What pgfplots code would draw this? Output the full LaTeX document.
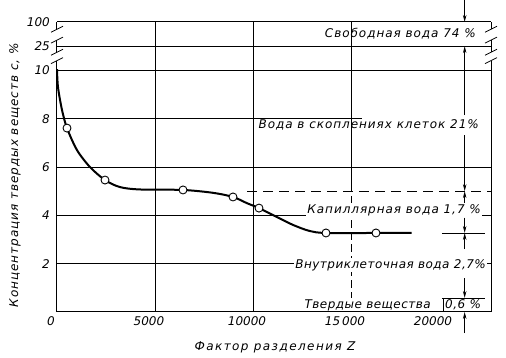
\documentclass[border=0pt]{standalone}
\usepackage{fontspec}
\setmainfont{DejaVu Sans}
\newfontfamily\lab{DejaVu Sans}[LetterSpace=8]
\newfontfamily\labn{DejaVu Sans}[LetterSpace=4]
\newfontfamily\labw{DejaVu Sans}[LetterSpace=12]
\usepackage{pgfplots}
\pgfplotsset{compat=1.18}
\usetikzlibrary{arrows.meta}
\begin{document}
\fontsize{12}{14}\selectfont\itshape
\begin{tikzpicture}[>={Stealth[length=7pt,width=3.5pt]}, every node/.append style={font=\fontsize{12}{14}\selectfont\lab\itshape}]
\useasboundingbox (0,0) rectangle (506pt,358pt);
\begin{axis}[
  at={(57pt,46pt)}, anchor=south west,
  scale only axis, width=434pt, height=290pt,
  xmin=0, xmax=22143, ymin=0, ymax=12,
  axis line style={draw=none},
  clip=false,
  scaled x ticks=false,
  xtick={0,5000,10000,15000,20000},
  xticklabels={0,5000,10000,15\,000,\hspace*{-20pt}20000},
  ytick={2,4,6,8,10,11,12},
  yticklabels={2,4,6,8,10,25,100},
  major tick length=0pt,
  /pgf/number format/assume math mode=true,
  ticklabel style={font=\fontsize{12}{14}\selectfont\itshape},
  xticklabel style={xshift=-6pt},
  yticklabel style={xshift=-3pt},
  xlabel={Фактор разделения Z},
  ylabel={Концентрация твердых веществ c, \%},
  every axis x label/.style={at={(axis description cs:0.502,-0.121)}, anchor=center, font=\fontsize{12}{14}\selectfont\labw\itshape},
  every axis y label/.style={at={(axis description cs:-0.097,0.472)}, rotate=90, anchor=center, font=\fontsize{12}{14}\selectfont\lab\itshape},
]
% grid
\draw[line width=0.8pt] (axis cs:0,2) -- (axis cs:22143,2);
\draw[line width=0.8pt] (axis cs:0,4) -- (axis cs:22143,4);
\draw[line width=0.8pt] (axis cs:0,6) -- (axis cs:22143,6);
\draw[line width=0.8pt] (axis cs:0,10) -- (axis cs:22143,10);
\draw[line width=0.8pt] (axis cs:0,11) -- (axis cs:22143,11);
\draw[line width=0.8pt] (axis cs:5000,0) -- (axis cs:5000,12);
\draw[line width=0.8pt] (axis cs:10000,0) -- (axis cs:10000,12);
\draw[line width=0.8pt] (axis cs:15000,5) -- (axis cs:15000,12);
\draw[line width=0.8pt, dash pattern=on 8pt off 4pt] (axis cs:15000,0) -- (axis cs:15000,5);
% texts
\node[anchor=east] at (axis cs:21581,11.5) {Свободная вода 74 \%};
\node[anchor=east] at (axis cs:21735,7.74) {Вода в скоплениях клеток 21\%};
\node[anchor=east, fill=white, inner sep=1pt] at (axis cs:21684,4.22) {Капиллярная вода 1,7 \%};
\node[anchor=east, fill=white, inner sep=1pt, font=\fontsize{12}{14}\selectfont\labn\itshape] at (axis cs:21939,1.94) {Внутриклеточная вода 2,7\%};
\node[anchor=east, fill=white, inner sep=1pt, font=\fontsize{12}{14}\selectfont\labn\itshape] at (axis cs:19133,0.29) {Твердые вещества};
\node[anchor=west, inner sep=1pt, font=\fontsize{12}{14}\selectfont\labn\itshape] at (axis cs:19745,0.29) {0,6 \%};
\draw[line width=0.8pt] (axis cs:0,8) -- (axis cs:15560,8);
% frame
\draw[line width=1pt] (axis cs:0,0) -- (axis cs:22143,0);
\draw[line width=1pt] (axis cs:0,12) -- (axis cs:22143,12);
\draw[line width=1pt] (axis cs:0,0) -- (axis cs:0,10.4);
\draw[line width=1pt] (axis cs:0,10.75) -- (axis cs:0,11.25);
\draw[line width=1pt] (axis cs:0,11.7) -- (axis cs:0,12);
\draw[line width=1pt] (axis cs:22143,0) -- (axis cs:22143,10.4);
\draw[line width=1pt] (axis cs:22143,10.75) -- (axis cs:22143,11.25);
\draw[line width=1pt] (axis cs:22143,11.7) -- (axis cs:22143,12);
\draw[line width=0.8pt] (axis cs:0,10.4) ++(-6pt,-3pt) -- ++(12pt,6pt);
\draw[line width=0.8pt] (axis cs:0,10.75) ++(-6pt,-3pt) -- ++(12pt,6pt);
\draw[line width=0.8pt] (axis cs:0,11.25) ++(-6pt,-3pt) -- ++(12pt,6pt);
\draw[line width=0.8pt] (axis cs:0,11.7) ++(-6pt,-3pt) -- ++(12pt,6pt);
\draw[line width=0.8pt] (axis cs:22143,10.4) ++(-6pt,-3pt) -- ++(12pt,6pt);
\draw[line width=0.8pt] (axis cs:22143,10.75) ++(-6pt,-3pt) -- ++(12pt,6pt);
\draw[line width=0.8pt] (axis cs:22143,11.25) ++(-6pt,-3pt) -- ++(12pt,6pt);
\draw[line width=0.8pt] (axis cs:22143,11.7) ++(-6pt,-3pt) -- ++(12pt,6pt);
% auxiliary lines
\draw[line width=0.8pt, dash pattern=on 10pt off 6pt] (axis cs:9700,5) -- (axis cs:22143,5);
\draw[line width=0.8pt] (axis cs:19640,3.27) -- (axis cs:21840,3.27);
\draw[line width=0.8pt] (axis cs:19640,0.58) -- (axis cs:21840,0.58);
\draw[line width=0.8pt] (axis cs:19690,0) -- (axis cs:19690,0.58);
% dimension arrows
\draw[line width=0.8pt,->] (axis cs:20800,12.95) -- (axis cs:20800,12);
\draw[line width=0.8pt,->] (axis cs:20800,8.15) -- (axis cs:20800,11);
\draw[line width=0.8pt,->] (axis cs:20800,7.32) -- (axis cs:20800,5);
\draw[line width=0.8pt,->] (axis cs:20800,4.5) -- (axis cs:20800,5);
\draw[line width=0.8pt,->] (axis cs:20800,3.9) -- (axis cs:20800,3.27);
\draw[line width=0.8pt,->] (axis cs:20800,2.6) -- (axis cs:20800,3.27);
\draw[line width=0.8pt,->] (axis cs:20800,1.4) -- (axis cs:20800,0.58);
\draw[line width=0.8pt,->] (axis cs:20800,-0.87) -- (axis cs:20800,0);
% curve
\addplot[line width=2pt, smooth, tension=0.5] coordinates {
(0,10.05) (51,9.3) (255,8.36) (510,7.61) (1020,6.7) (1680,6.0) (2449,5.46)
(3210,5.17) (4230,5.07) (6429,5.05) (7970,4.93) (8980,4.76) (9700,4.5)
(10306,4.30) (11220,3.93) (12050,3.6) (12900,3.35) (13724,3.27) (16275,3.27) (18090,3.27)};
\addplot[only marks, mark=*, mark size=4pt, mark options={fill=white, draw=black, line width=0.9pt}] coordinates {
(510,7.61) (2449,5.46) (6429,5.05) (8980,4.76) (10306,4.30) (13724,3.27) (16275,3.27)};
\end{axis}
\end{tikzpicture}
\end{document}
